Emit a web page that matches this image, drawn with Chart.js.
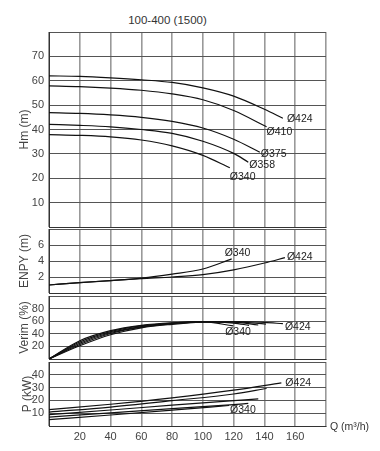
<!DOCTYPE html>
<html lang="tr">
<head>
<meta charset="UTF-8">
<title>100-400 (1500)</title>
<script src="https://cdn.jsdelivr.net/npm/chart.js"></script>
<style>
  body { margin: 0; background: #fff; }
  .wrap { position: relative; width: 380px; height: 451px; font-family: 'Liberation Sans', Arial, sans-serif; color: #333; }
  .wrap canvas { position: absolute; left: 0; top: 0; }
  .title { position: absolute; top: 14px; left: 0; width: 335px; text-align: center; font-size: 11.5px; }
  .qlabel { position: absolute; left: 330px; top: 420px; font-size: 10.5px; }
</style>
</head>
<body>
<div class="wrap">
  <div class="title">100-400 (1500)</div>
  <canvas id="hm" width="380" height="451"></canvas>
  <canvas id="npsh" width="380" height="451"></canvas>
  <canvas id="eff" width="380" height="451"></canvas>
  <canvas id="pow" width="380" height="451"></canvas>
  <div class="qlabel">Q (m³/h)</div>
</div>

<script>
// impeller diameters, top curve first
const diameters = ['Ø424', 'Ø410', 'Ø375', 'Ø358', 'Ø340'];
const qTicks = [20, 40, 60, 80, 100, 120, 140, 160];

// head Hm (m) vs Q (m3/h)
const h424 = [[0, 62], [20, 61.8], [40, 61.2], [60, 60.4], [80, 59.3], [100, 57.1], [120, 53.7], [140, 48.3], [152, 44.6]];
const h410 = [[0, 57.9], [20, 57.6], [40, 57.0], [60, 56.1], [80, 54.6], [100, 52.2], [120, 47.8], [141.4, 41.1]];
const h375 = [[0, 46.9], [20, 46.6], [40, 46.0], [60, 45.0], [80, 43.3], [100, 40.6], [120, 36.0], [137, 30.7]];
const h358 = [[0, 42.1], [20, 41.7], [40, 41.1], [60, 40.0], [80, 38.4], [100, 35.2], [120, 30.2], [129.5, 26.6]];
const h340 = [[0, 37.9], [20, 37.6], [40, 37.0], [60, 35.7], [80, 33.3], [100, 29.4], [117.5, 24.3]];
const hmTicks = [10, 20, 30, 40, 50, 60, 70];

// NPSH (m)
const n424 = [[0, 1.0], [20, 1.3], [40, 1.55], [60, 1.8], [80, 2.0], [100, 2.3], [120, 2.9], [140, 3.75], [153.3, 4.42]];
const n340 = [[0, 1.0], [20, 1.3], [40, 1.55], [60, 1.85], [80, 2.35], [100, 3.0], [118.7, 4.26]];
const npshTicks = [2, 4, 6];

// efficiency (%)
const e424 = [[0, 0], [20, 21], [40, 38.5], [60, 49.5], [80, 55], [100, 58.5], [120, 59.5], [140, 58], [152, 56]];
const e410 = [[0, 0], [20, 23], [40, 40.5], [60, 50.5], [80, 55.8], [100, 58.8], [120, 59], [141, 55.5]];
const e375 = [[0, 0], [20, 25], [40, 42], [60, 51.5], [80, 56.5], [100, 59], [120, 58.5], [136, 54]];
const e358 = [[0, 0], [20, 27], [40, 43.5], [60, 52.5], [80, 57], [100, 59.2], [120, 57], [130, 53.5]];
const e340 = [[0, 0], [20, 29], [40, 45], [60, 53.5], [80, 57.5], [100, 59], [119.7, 52.5]];
const effTicks = [20, 40, 60, 80];

// power P (kW)
const p424 = [[0, 12.8], [40, 17], [80, 22], [120, 28], [151, 33.7]];
const p410 = [[0, 10.9], [40, 14.8], [80, 19.8], [120, 25], [141.4, 29.3]];
const p375 = [[0, 8.9], [40, 12.5], [80, 16.3], [120, 19.8], [136, 21.2]];
const p358 = [[0, 7], [40, 10.2], [80, 13.6], [120, 16.7], [129.5, 17.6]];
const p340 = [[0, 5], [40, 8.6], [80, 12.4], [117, 16]];
const powTicks = [10, 20, 30, 40];

const tickFont = { family: "'Liberation Sans Narrow', 'Liberation Sans', sans-serif", size: 11 };

// writes the diameter next to the end of a curve
const curveLabels = {
  id: 'curveLabels',
  afterDatasetsDraw(chart, args, opts) {
    const { ctx, scales: { x, y } } = chart;
    ctx.save();
    ctx.font = "10.5px 'Liberation Sans Narrow', 'Liberation Sans', sans-serif";
    ctx.fillStyle = '#222';
    ctx.textBaseline = 'middle';
    (opts.items || []).forEach(it => {
      const data = chart.data.datasets[it.ds].data;
      const end = data[data.length - 1];
      ctx.fillText(diameters[it.d], x.getPixelForValue(end[0]) + it.dx, y.getPixelForValue(end[1]) + it.dy);
    });
    ctx.restore();
  }
};

function makePanel(id, p) {
  return new Chart(document.getElementById(id), {
    type: 'line',
    data: {
      datasets: p.series.map(s => ({
        data: s,
        borderColor: '#111',
        borderWidth: 1.2,
        pointRadius: 0,
        fill: false,
        cubicInterpolationMode: 'monotone'
      }))
    },
    options: {
      responsive: false,
      animation: false,
      layout: { padding: { left: 0, right: 54, top: p.top, bottom: p.bottom } },
      plugins: {
        legend: { display: false },
        tooltip: { enabled: false },
        curveLabels: { items: p.labels }
      },
      scales: {
        x: {
          type: 'linear', min: 0, max: 180,
          grid: { color: '#999', lineWidth: 1.6, drawTicks: false },
          border: { color: '#333', width: 1 },
          ticks: {
            display: p.showX, stepSize: 20, padding: 4, color: '#444', font: tickFont,
            autoSkip: false, maxRotation: 0,
            callback: v => qTicks.includes(v) ? v : ''
          },
          afterFit: s => { s.height = p.showX ? 25 : 0; }
        },
        y: {
          min: 0, max: p.max,
          grid: { color: '#555', lineWidth: 1, drawTicks: false },
          border: { color: '#333', width: 1 },
          ticks: {
            stepSize: p.step, padding: 5, color: '#444', font: tickFont, autoSkip: false,
            callback: v => p.ticks.includes(v) ? v : ''
          },
          title: {
            display: true, text: p.title, color: '#444',
            font: { family: "'Liberation Sans', sans-serif", size: 12 },
            padding: { top: p.titlePad, bottom: 0 }
          },
          afterFit: s => { s.width = 49; }
        }
      }
    },
    plugins: [curveLabels]
  });
}

makePanel('hm', {
  series: [h424, h410, h375, h358, h340], top: 32, bottom: 224, max: 80, step: 10,
  ticks: hmTicks, title: 'Hm (m)', titlePad: 17, showX: false,
  labels: [
    { ds: 0, d: 0, dx: 4, dy: 1 }, { ds: 1, d: 1, dx: 0, dy: 5 }, { ds: 2, d: 2, dx: 1, dy: 2 },
    { ds: 3, d: 3, dx: 1, dy: 3 }, { ds: 4, d: 4, dx: 0, dy: 9 }
  ]
});

makePanel('npsh', {
  series: [n424, n340], top: 229, bottom: 158, max: 8, step: 2,
  ticks: npshTicks, title: 'ENPY (m)', titlePad: 17, showX: false,
  labels: [{ ds: 0, d: 0, dx: 2, dy: -1 }, { ds: 1, d: 4, dx: -7, dy: -6 }]
});

makePanel('eff', {
  series: [e424, e410, e375, e358, e340], top: 296, bottom: 92, max: 100, step: 20,
  ticks: effTicks, title: 'Verim (%)', titlePad: 17, showX: false,
  labels: [{ ds: 0, d: 0, dx: 2, dy: 3 }, { ds: 4, d: 4, dx: -8, dy: 6 }]
});

makePanel('pow', {
  series: [p424, p410, p375, p358, p340], top: 362, bottom: 0, max: 50, step: 10,
  ticks: powTicks, title: 'P (kW)', titlePad: 20, showX: true,
  labels: [{ ds: 0, d: 0, dx: 4, dy: 0 }, { ds: 4, d: 4, dx: 1, dy: 5 }]
});
</script>
</body>
</html>
